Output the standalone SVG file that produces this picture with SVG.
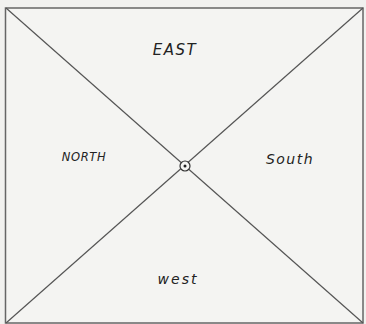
<svg xmlns="http://www.w3.org/2000/svg" width="366" height="324" viewBox="0 0 366 324">
<style>
.ln{stroke:#555;stroke-width:1.2;fill:none}
.lb{font-family:"DejaVu Sans",sans-serif;font-weight:200;font-style:italic;fill:#222;text-anchor:middle}
</style>
<rect width="366" height="324" fill="#f1f1ef"/>
<rect x="5.5" y="8" width="357.5" height="315" fill="#f4f4f2" stroke="#666" stroke-width="1.5"/>
<g id="connectors">
<line class="ln" x1="6" y1="8" x2="363" y2="323"/>
<line class="ln" x1="363" y1="8" x2="6" y2="323"/>
</g>
<g id="center">
<circle cx="185" cy="166" r="5" fill="#f4f4f2" stroke="#333" stroke-width="1.2"/>
<circle cx="185" cy="166" r="1.5" fill="#222"/>
</g>
<g id="east"><text class="lb" x="175" y="55" font-size="15" letter-spacing="1.5">EAST</text></g>
<g id="north"><text class="lb" x="84" y="161" font-size="11.5" letter-spacing="0.6">NORTH</text></g>
<g id="south"><text class="lb" x="290" y="164" font-size="14" letter-spacing="1.5">South</text></g>
<g id="west"><text class="lb" x="178" y="284" font-size="14" letter-spacing="2">west</text></g>
</svg>
